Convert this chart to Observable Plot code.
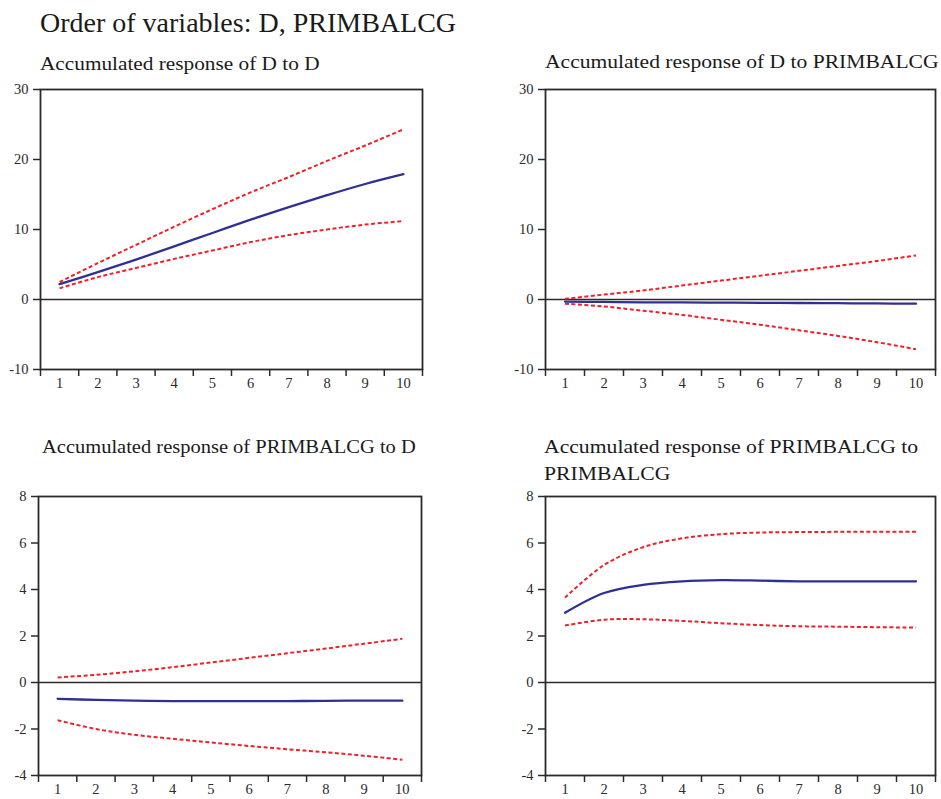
<!DOCTYPE html>
<html><head><meta charset="utf-8">
<script src="https://cdn.jsdelivr.net/npm/d3@7"></script>
<script src="https://cdn.jsdelivr.net/npm/@observablehq/plot@0.6"></script>
<style>
body{margin:0;background:#fff;font-family:"Liberation Serif","Times New Roman",serif;}
#wrap{position:relative;width:941px;height:799px;overflow:hidden;background:#fff;}
.t{position:absolute;white-space:nowrap;color:#1a1a1a;line-height:1;transform-origin:0 0;font-family:"Liberation Serif",serif;}
.p{position:absolute;}
.p svg, .p svg text{font-family:"Liberation Serif",serif !important;}
</style></head><body><div id="wrap"></div>
<script>
const mainTitle = "Order of variables: D, PRIMBALCG";
const titles = [
  "Accumulated response of D to D",
  "Accumulated response of D to PRIMBALCG",
  "Accumulated response of PRIMBALCG to D",
  "Accumulated response of PRIMBALCG to<br>PRIMBALCG"
];
const periods = [1, 2, 3, 4, 5, 6, 7, 8, 9, 10];
const edges = [0.5, 1.5, 2.5, 3.5, 4.5, 5.5, 6.5, 7.5, 8.5, 9.5, 10.5];
const yTicksTop = [-10, 0, 10, 20, 30];
const yTicksBottom = [-4, -2, 0, 2, 4, 6, 8];

// Accumulated response of D to D
const dD_resp  = [2.2, 3.9, 5.7, 7.6, 9.5, 11.4, 13.2, 14.9, 16.5, 17.9];
const dD_upper = [2.5, 5.2, 7.8, 10.4, 12.9, 15.3, 17.5, 19.8, 22.0, 24.3];
const dD_lower = [1.6, 3.2, 4.5, 5.8, 7.0, 8.2, 9.2, 10.0, 10.7, 11.2];

// Accumulated response of D to PRIMBALCG
const dP_resp  = [-0.3, -0.35, -0.4, -0.42, -0.45, -0.48, -0.5, -0.53, -0.56, -0.6];
const dP_upper = [0.1, 0.7, 1.3, 2.0, 2.7, 3.4, 4.1, 4.8, 5.5, 6.3];
const dP_lower = [-0.6, -1.0, -1.6, -2.2, -2.9, -3.6, -4.4, -5.2, -6.1, -7.1];

// Accumulated response of PRIMBALCG to D
const pD_resp  = [-0.70, -0.75, -0.78, -0.80, -0.80, -0.80, -0.80, -0.79, -0.78, -0.78];
const pD_upper = [0.22, 0.33, 0.48, 0.66, 0.86, 1.06, 1.26, 1.46, 1.67, 1.88];
const pD_lower = [-1.62, -2.0, -2.25, -2.42, -2.58, -2.73, -2.87, -3.0, -3.15, -3.32];

// Accumulated response of PRIMBALCG to PRIMBALCG
const pP_resp  = [3.0, 3.85, 4.2, 4.35, 4.4, 4.38, 4.35, 4.35, 4.35, 4.35];
const pP_upper = [3.65, 5.05, 5.82, 6.2, 6.38, 6.45, 6.47, 6.48, 6.48, 6.48];
const pP_lower = [2.45, 2.7, 2.72, 2.65, 2.55, 2.47, 2.42, 2.4, 2.38, 2.36];

const BLUE = "#2e3192", RED = "#f0202a", INK = "#2a2a2a";

const panels = [
  {left: 0,   top: 80,  w: 440, h: 320, ml: 40, mr: 18, mt: 9,  mb: 31, dom: [-10, 30], ticks: yTicksTop,    r: dD_resp, u: dD_upper, l: dD_lower},
  {left: 500, top: 80,  w: 441, h: 320, ml: 45, mr: 6,  mt: 9,  mb: 31, dom: [-10, 30], ticks: yTicksTop,    r: dP_resp, u: dP_upper, l: dP_lower},
  {left: 0,   top: 480, w: 440, h: 319, ml: 38, mr: 19, mt: 16, mb: 24, dom: [-4, 8],   ticks: yTicksBottom, r: pD_resp, u: pD_upper, l: pD_lower},
  {left: 500, top: 480, w: 441, h: 319, ml: 45, mr: 6,  mt: 16, mb: 24, dom: [-4, 8],   ticks: yTicksBottom, r: pP_resp, u: pP_upper, l: pP_lower}
];

const wrap = document.getElementById("wrap");
function addText(html, left, top, size, sx, lh) {
  const d = document.createElement("div");
  d.className = "t";
  d.style.left = left + "px";
  d.style.top = top + "px";
  d.style.fontSize = size + "px";
  if (lh) d.style.lineHeight = lh + "px";
  d.style.transform = "scaleX(" + sx + ")";
  d.innerHTML = html;
  wrap.appendChild(d);
}

panels.forEach(p => {
  const rows = periods.map((x, i) => ({x, r: p.r[i], u: p.u[i], l: p.l[i]}));
  const fmt = d => String(d);
  const dashed = {stroke: RED, strokeWidth: 2, strokeDasharray: "4,2.5", strokeLinecap: "butt", curve: "catmull-rom"};
  const chart = Plot.plot({
    width: p.w, height: p.h,
    marginLeft: p.ml, marginRight: p.mr, marginTop: p.mt, marginBottom: p.mb,
    style: {fontFamily: "Liberation Serif, serif", fontSize: "14px", color: INK, background: "transparent"},
    x: {domain: [0.5, 10.5], axis: null},
    y: {domain: p.dom, axis: null},
    marks: [
      Plot.ruleY([0], {stroke: INK, strokeWidth: 1.4}),
      Plot.line(rows, {x: "x", y: "u", ...dashed}),
      Plot.line(rows, {x: "x", y: "l", ...dashed}),
      Plot.line(rows, {x: "x", y: "r", stroke: BLUE, strokeWidth: 2.3, curve: "catmull-rom"}),
      Plot.frame({stroke: INK, strokeWidth: 1.8}),
      Plot.axisY(p.ticks, {tickSize: 7, tickPadding: 5, tickFormat: fmt, strokeWidth: 1.5, fontSize: 14.5, label: null}),
      Plot.axisX(edges, {tickSize: 7, tickFormat: () => "", strokeWidth: 1.5, label: null}),
      Plot.axisX(periods, {tickSize: 0, tickPadding: 8, tickFormat: fmt, fontSize: 14.5, label: null})
    ]
  });
  const holder = document.createElement("div");
  holder.className = "p";
  holder.style.left = p.left + "px";
  holder.style.top = p.top + "px";
  holder.appendChild(chart);
  wrap.appendChild(holder);
});

addText(mainTitle, 40, 9, 28, 1.0);
addText(titles[0], 40, 54, 19, 1.12);
addText(titles[1], 545, 52, 19, 1.135);
addText(titles[2], 42, 437, 19, 1.078);
addText(titles[3], 544, 433, 19, 1.14, 27);
</script>
</body></html>
